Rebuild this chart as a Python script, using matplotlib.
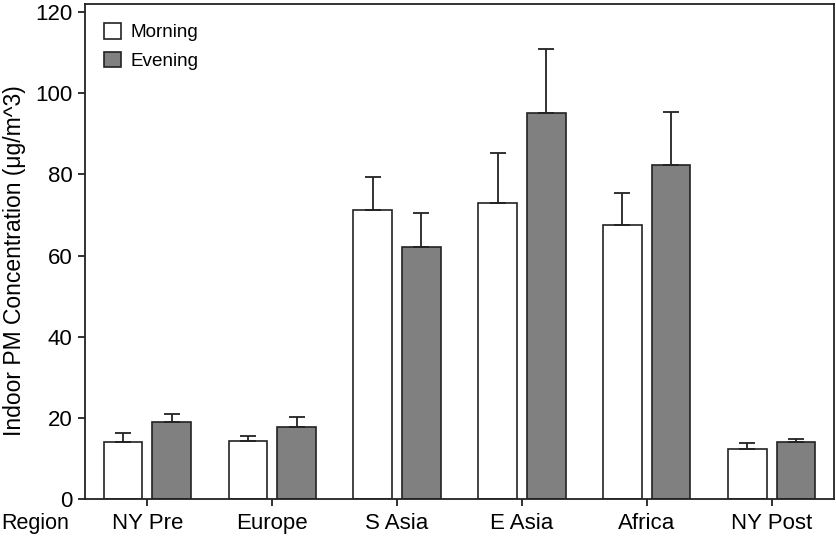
import matplotlib.pyplot as plt
import numpy as np
from matplotlib.patches import Patch

regions = ["NY Pre", "Europe", "S Asia", "E Asia", "Africa", "NY Post"]
morning = [14.0, 14.4, 71.2, 72.9, 67.5, 12.3]
morning_err = [2.3, 1.2, 8.2, 12.3, 7.9, 1.6]
evening = [18.9, 17.7, 62.1, 95.1, 82.4, 14.0]
evening_err = [2.0, 2.4, 8.3, 15.7, 13.1, 0.7]

plt.rcParams['font.family'] = ['Liberation Sans', 'DejaVu Sans']

fig = plt.figure(figsize=(8.36, 5.39), dpi=100)
ax = fig.add_axes([0.1017, 0.0742, 0.8959, 0.9184])

x = np.arange(len(regions))
w = 0.31
off = 0.195
edge = '#222222'
ax.bar(x - off, morning, w, color='white', edgecolor=edge, linewidth=1.2,
       yerr=[np.zeros(len(morning)), morning_err],
       error_kw=dict(ecolor=edge, elinewidth=1.3, capsize=6, capthick=1.3))
ax.bar(x + off, evening, w, color='#808080', edgecolor=edge, linewidth=1.2,
       yerr=[np.zeros(len(evening)), evening_err],
       error_kw=dict(ecolor=edge, elinewidth=1.3, capsize=6, capthick=1.3))

ax.set_xlim(-0.5, 5.5)
ax.set_ylim(0, 122)
ax.set_yticks([0, 20, 40, 60, 80, 100, 120])
ax.set_xticks(x)
ax.set_xticklabels(regions)
ax.tick_params(axis='both', labelsize=16, width=1.3, length=5, color=edge)
ax.tick_params(axis='x', pad=5)
ax.tick_params(axis='y', pad=4)
for s in ax.spines.values():
    s.set_linewidth(1.3)
    s.set_color(edge)

ax.set_ylabel('Indoor PM Concentration (\u03bcg/m^3)', fontsize=16.5)
ax.yaxis.set_label_coords(-0.079, 0.481)
fig.text(0.002, 0.029, 'Region', fontsize=15.5, ha='left', va='center')

handles = [Patch(facecolor='white', edgecolor=edge, linewidth=1.2, label='Morning'),
           Patch(facecolor='#808080', edgecolor=edge, linewidth=1.2, label='Evening')]
ax.legend(handles=handles, loc='upper left', frameon=False, fontsize=13.6,
          handlelength=0.9, handleheight=0.9, handletextpad=0.5,
          labelspacing=0.55, borderaxespad=0.6)

fig.savefig('out.png', dpi=100)
